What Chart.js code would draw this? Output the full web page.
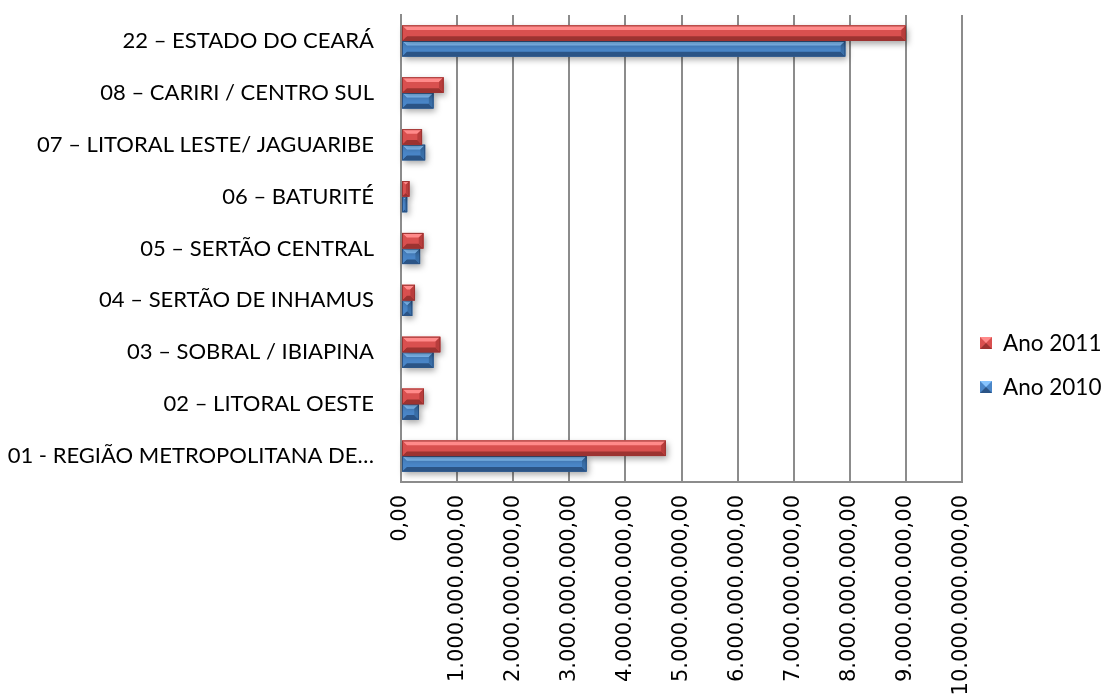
<!DOCTYPE html>
<html>
<head>
<meta charset="utf-8">
<script src="https://cdn.jsdelivr.net/npm/chart.js@4"></script>
<style>
  html, body { margin: 0; padding: 0; background: #fff; }
  #wrap { width: 1106px; height: 697px; position: relative; }
</style>
</head>
<body>
<div id="wrap"><canvas id="chart"></canvas></div>
<script>
// Regions, top to bottom as in the picture
const regioes = [
    '22 – ESTADO DO CEARÁ',
    '08 – CARIRI / CENTRO SUL',
    '07 – LITORAL LESTE/ JAGUARIBE',
    '06 – BATURITÉ',
    '05 – SERTÃO CENTRAL',
    '04 – SERTÃO DE INHAMUS',
    '03 – SOBRAL / IBIAPINA',
    '02 – LITORAL OESTE',
    '01 - REGIÃO METROPOLITANA DE…'
];

// Values (R$)
const ano2011 = [9.00e9, 0.76e9, 0.375e9, 0.15e9, 0.40e9, 0.25e9, 0.70e9, 0.41e9, 4.72e9];
const ano2010 = [7.92e9, 0.58e9, 0.43e9, 0.11e9, 0.34e9, 0.20e9, 0.58e9, 0.32e9, 3.31e9];

const seriesNames = ['Ano 2011', 'Ano 2010'];

// x axis: 0 .. 10.000.000.000,00 step 1.000.000.000
const xMax = 1e10;
const xStep = 1e9;

// bevel colours
const palette = {
    'Ano 2011': { light: '#ff8a8a', mid: '#d9504f', dark: '#9c3331', side: '#b83d3c' },
    'Ano 2010': { light: '#86c4ff', mid: '#4a86c8', dark: '#2b5486', side: '#3a6fa8' }
};

function fmtBR(v) {
    const s = Math.round(v).toString().replace(/\B(?=(\d{3})+(?!\d))/g, '.');
    return s + ',00';
}

// draws the Excel-like bevelled bars over the plain ones
const bevelPlugin = {
    id: 'bevel',
    afterDatasetsDraw(chart) {
        const ctx = chart.ctx;
        // lower series first so the upper one sits over its shadow
        for (let d = chart.data.datasets.length - 1; d >= 0; d--) {
            const ds = chart.data.datasets[d];
            const c = palette[ds.label];
            const meta = chart.getDatasetMeta(d);
            meta.data.forEach(bar => {
                const l = Math.min(bar.base, bar.x), r = Math.max(bar.base, bar.x);
                const t = bar.y - bar.height / 2, b = bar.y + bar.height / 2;
                const w = r - l, h = b - t;
                const bv = Math.min(h * 0.3, w / 2);
                ctx.save();
                ctx.shadowColor = 'rgba(0,0,0,0.35)';
                ctx.shadowBlur = 6;
                ctx.shadowOffsetX = 2;
                ctx.shadowOffsetY = 3;
                ctx.fillStyle = c.mid;
                ctx.fillRect(l, t, w, h);
                ctx.restore();

                ctx.save();
                // top face
                ctx.fillStyle = c.light;
                ctx.beginPath();
                ctx.moveTo(l, t); ctx.lineTo(r, t); ctx.lineTo(r - bv, t + bv); ctx.lineTo(l + bv, t + bv);
                ctx.closePath(); ctx.fill();
                // bottom face
                ctx.fillStyle = c.dark;
                ctx.beginPath();
                ctx.moveTo(l, b); ctx.lineTo(r, b); ctx.lineTo(r - bv, b - bv); ctx.lineTo(l + bv, b - bv);
                ctx.closePath(); ctx.fill();
                // right end
                ctx.fillStyle = c.side;
                ctx.beginPath();
                ctx.moveTo(r, t); ctx.lineTo(r, b); ctx.lineTo(r - bv, b - bv); ctx.lineTo(r - bv, t + bv);
                ctx.closePath(); ctx.fill();
                // left end
                ctx.fillStyle = c.mid;
                ctx.beginPath();
                ctx.moveTo(l, t); ctx.lineTo(l, b); ctx.lineTo(l + bv, b - bv); ctx.lineTo(l + bv, t + bv);
                ctx.closePath(); ctx.fill();
                ctx.strokeStyle = c.dark;
                ctx.lineWidth = 1;
                ctx.strokeRect(l + 0.5, t + 0.5, w - 1, h - 1);
                ctx.restore();
            });
        }
    },
    afterDraw(chart) {
        // legend on the right, centred like Excel does it
        const ctx = chart.ctx;
        const items = [chart.data.datasets[0], chart.data.datasets[1]];
        const ys = [343, 387];
        ctx.save();
        items.forEach((ds, i) => {
            const c = palette[ds.label];
            const x0 = 980, y0 = ys[i] - 6, s = 12;
            ctx.fillStyle = c.mid;
            ctx.fillRect(x0, y0, s, s);
            ctx.fillStyle = c.light;
            ctx.beginPath(); ctx.moveTo(x0, y0); ctx.lineTo(x0 + s, y0); ctx.lineTo(x0 + s / 2, y0 + s / 2); ctx.closePath(); ctx.fill();
            ctx.fillStyle = c.dark;
            ctx.beginPath(); ctx.moveTo(x0, y0 + s); ctx.lineTo(x0 + s, y0 + s); ctx.lineTo(x0 + s / 2, y0 + s / 2); ctx.closePath(); ctx.fill();
            ctx.fillStyle = '#000';
            ctx.font = '22.5px Lato';
            ctx.textBaseline = 'middle';
            ctx.textAlign = 'left';
            ctx.fillText(ds.label, 1003, ys[i] + 1);
        });
        ctx.restore();
    }
};

new Chart(document.getElementById('chart'), {
    type: 'bar',
    data: {
        labels: regioes,
        datasets: [
            { label: seriesNames[0], data: ano2011, backgroundColor: palette['Ano 2011'].mid },
            { label: seriesNames[1], data: ano2010, backgroundColor: palette['Ano 2010'].mid }
        ]
    },
    options: {
        indexAxis: 'y',
        responsive: true,
        maintainAspectRatio: false,
        animation: false,
        categoryPercentage: 0.6,
        barPercentage: 1.0,
        layout: { padding: { top: 15, right: 144, left: 0, bottom: 0 } },
        plugins: {
            legend: { display: false },
            tooltip: { enabled: false }
        },
        scales: {
            x: {
                min: 0,
                max: xMax,
                ticks: {
                    stepSize: xStep,
                    maxRotation: 90,
                    minRotation: 90,
                    padding: 13,
                    color: '#000',
                    font: { family: 'DejaVu Sans', size: 21 },
                    callback: v => fmtBR(v)
                },
                grid: { color: '#8c8c8c', lineWidth: 2, drawTicks: false },
                border: { color: '#8c8c8c', width: 2 },
                afterFit(scale) {
                    scale.height = 215;
                    scale.paddingLeft = 0;
                    scale.paddingRight = 0;
                }
            },
            y: {
                ticks: {
                    padding: 27,
                    color: '#000',
                    font: { family: 'Lato', size: 22 }
                },
                grid: { display: false, drawTicks: false },
                border: { color: '#8c8c8c', width: 2 },
                afterFit(scale) {
                    scale.width = 401;
                    scale.paddingTop = 0;
                    scale.paddingBottom = 0;
                }
            }
        }
    },
    plugins: [bevelPlugin]
});
</script>
</body>
</html>
